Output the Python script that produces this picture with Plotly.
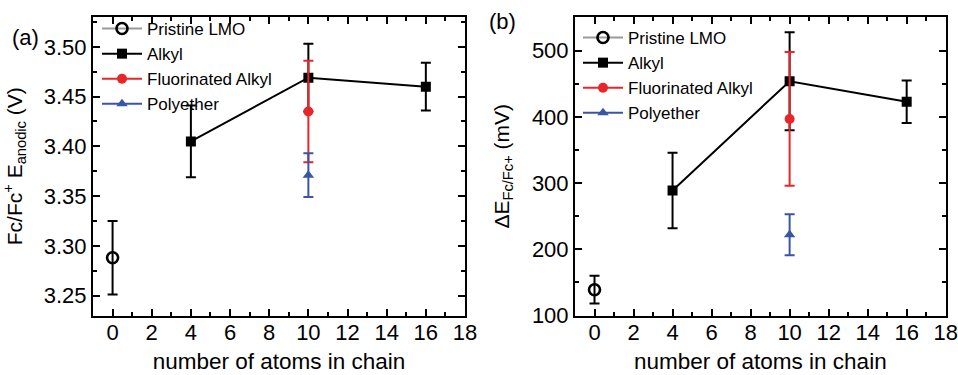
import plotly.graph_objects as go

# ---------------- data ----------------
series_names = ["Pristine LMO", "Alkyl", "Fluorinated Alkyl", "Polyether"]

# panel (a): Fc/Fc+ E_anodic (V)
a_pristine_x = [0]
a_pristine_y = [3.288]
a_pristine_err = [0.037]
a_alkyl_x = [4, 10, 16]
a_alkyl_y = [3.405, 3.469, 3.460]
a_alkyl_err = [0.036, 0.034, 0.024]
a_fluoro_x = [10]
a_fluoro_y = [3.435]
a_fluoro_err = [0.051]
a_poly_x = [10]
a_poly_y = [3.371]
a_poly_err = [0.022]

# panel (b): delta E Fc/Fc+ (mV)
b_pristine_x = [0]
b_pristine_y = [139]
b_pristine_err = [21]
b_alkyl_x = [4, 10, 16]
b_alkyl_y = [289, 454, 423]
b_alkyl_err = [57, 74, 32]
b_fluoro_x = [10]
b_fluoro_y = [397]
b_fluoro_err = [101]
b_poly_x = [10]
b_poly_y = [222]
b_poly_err = [31]

x_tickvals = [0, 2, 4, 6, 8, 10, 12, 14, 16, 18]

# ---------------- styles ----------------
RED = "#e8262a"
BLUE = "#3a55a4"
FONT = "Liberation Sans, Arial, sans-serif"

styles = [
    dict(line=dict(color="#9a9a9a", width=2),
         marker=dict(symbol="circle-open", size=11, color="black", line=dict(width=2.6, color="black")),
         ecolor="black"),
    dict(line=dict(color="black", width=2),
         marker=dict(symbol="square", size=10, color="black"),
         ecolor="black"),
    dict(line=dict(color=RED, width=2),
         marker=dict(symbol="circle", size=10, color=RED),
         ecolor=RED),
    dict(line=dict(color=BLUE, width=2),
         marker=dict(symbol="triangle-up", size=10, color=BLUE),
         ecolor=BLUE),
]

fig = go.Figure()

panels = [
    ("x", "y", "legend", [(a_pristine_x, a_pristine_y, a_pristine_err),
                          (a_alkyl_x, a_alkyl_y, a_alkyl_err),
                          (a_fluoro_x, a_fluoro_y, a_fluoro_err),
                          (a_poly_x, a_poly_y, a_poly_err)]),
    ("x2", "y2", "legend2", [(b_pristine_x, b_pristine_y, b_pristine_err),
                             (b_alkyl_x, b_alkyl_y, b_alkyl_err),
                             (b_fluoro_x, b_fluoro_y, b_fluoro_err),
                             (b_poly_x, b_poly_y, b_poly_err)]),
]

for xa, ya, lg, data in panels:
    for name, st, (xs, ys, es) in zip(series_names, styles, data):
        fig.add_trace(go.Scatter(
            x=xs, y=ys, name=name, mode="lines+markers",
            xaxis=xa, yaxis=ya, legend=lg,
            line=st["line"], marker=st["marker"],
            error_y=dict(type="data", array=es, visible=True,
                         color=st["ecolor"], thickness=2, width=5),
        ))

axis_common = dict(
    showline=True, linecolor="black", linewidth=2, mirror="allticks",
    ticks="inside", ticklen=7, tickwidth=2, tickcolor="black",
    showgrid=False, zeroline=False, automargin=False,
    tickfont=dict(family=FONT, size=22, color="black"),
)

xaxis_common = dict(axis_common, range=[-1, 18], tickmode="array", tickvals=x_tickvals,
                    ticklabelstandoff=-4,
                    minor=dict(ticks="inside", ticklen=4, tickwidth=2, tickcolor="black", dtick=1, tick0=0),
                    title=dict(text="number of atoms in chain",
                               font=dict(family=FONT, size=22.5, color="black"), standoff=9))

W, H = 958, 375

fig.update_layout(
    template="none",
    width=W, height=H,
    margin=dict(l=0, r=0, t=0, b=0, autoexpand=False),
    paper_bgcolor="white", plot_bgcolor="white",
    font=dict(family=FONT, color="black"),
    xaxis=dict(xaxis_common, domain=[93 / W, 465 / W], anchor="y"),
    yaxis=dict(axis_common, domain=[1 - 315.5 / H, 1 - 17 / H], anchor="x",
               range=[3.23, 3.53], tick0=3.25, dtick=0.05, tickformat=".2f",
               minor=dict(ticks="inside", ticklen=4, tickwidth=2, tickcolor="black", dtick=0.025, tick0=3.25),
               title=dict(text="Fc/Fc<sup>+</sup> E<sub>anodic</sub> (V)",
                          font=dict(family=FONT, size=21, color="black"), standoff=16)),
    xaxis2=dict(xaxis_common, domain=[575 / W, 945.7 / W], anchor="y2"),
    yaxis2=dict(axis_common, domain=[1 - 315.5 / H, 1 - 17 / H], anchor="x2",
                range=[100, 551], tick0=100, dtick=100,
                minor=dict(ticks="inside", ticklen=4, tickwidth=2, tickcolor="black", dtick=50, tick0=100),
                title=dict(text="ΔE<sub>Fc/Fc+</sub> (mV)",
                           font=dict(family=FONT, size=21, color="black"), standoff=17)),
    legend=dict(x=97 / W, y=1 - 11 / H, xanchor="left", yanchor="top",
                bgcolor="rgba(0,0,0,0)", borderwidth=0, itemwidth=40,
                font=dict(family=FONT, size=17, color="black"), tracegroupgap=0),
    legend2=dict(x=578 / W, y=1 - 20 / H, xanchor="left", yanchor="top",
                 bgcolor="rgba(0,0,0,0)", borderwidth=0, itemwidth=40,
                 font=dict(family=FONT, size=17, color="black"), tracegroupgap=0),
    annotations=[
        dict(text="(a)", x=10 / W, y=1 - 37 / H, xref="paper", yref="paper", showarrow=False,
             xanchor="left", yanchor="middle", font=dict(family=FONT, size=22, color="black")),
        dict(text="(b)", x=487 / W, y=1 - 21 / H, xref="paper", yref="paper", showarrow=False,
             xanchor="left", yanchor="middle", font=dict(family=FONT, size=22, color="black")),
    ],
)

# remove the browser's default 8px body margin so the figure sits at the page origin
fig.write_html("out.html", config={"displayModeBar": False},
               post_script="document.body.style.margin='0';")
